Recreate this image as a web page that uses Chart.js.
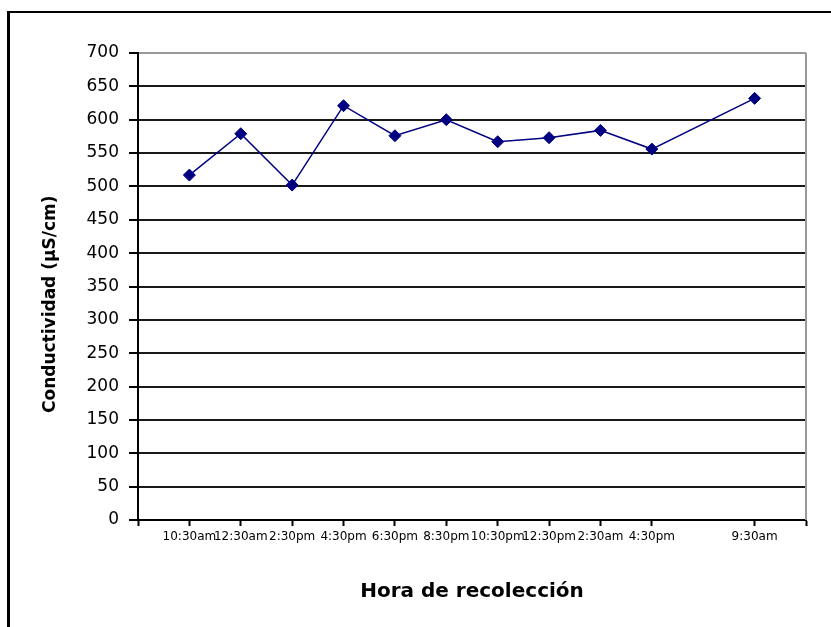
<!DOCTYPE html>
<html>
<head>
<meta charset="utf-8">
<script src="https://cdn.jsdelivr.net/npm/chart.js@4.4.1/dist/chart.umd.min.js"></script>
<style>
  html, body { margin: 0; padding: 0; background: #fff; overflow: hidden; }
  #wrap { position: relative; width: 831px; height: 627px; }
  #frame {
    position: absolute; left: 7px; top: 11px; width: 840px; height: 630px;
    border-left: 3px solid #000; border-top: 2px solid #000; pointer-events: none;
  }
  canvas { position: absolute; left: 0; top: 0; }
</style>
</head>
<body>
<div id="wrap">
  <canvas id="myChart" width="831" height="627"></canvas>
  <div id="frame"></div>
</div>
<script>
// sampling times, slot on the time axis (slot 11 has no sample) and conductivity readings
const times = ['10:30am', '12:30am', '2:30pm', '4:30pm', '6:30pm', '8:30pm', '10:30pm', '12:30pm', '2:30am', '4:30pm', '9:30am'];
const slots = [1, 2, 3, 4, 5, 6, 7, 8, 9, 10, 12];
const conductividad = [517, 579, 502, 621, 576, 600, 567, 573, 584, 556, 632];
const yTicks = [0, 50, 100, 150, 200, 250, 300, 350, 400, 450, 500, 550, 600, 650, 700];
const xTickSlots = [0, 1, 2, 3, 4, 5, 6, 7, 8, 9, 10, 12, 13];

const points = slots.map((s, i) => ({ x: s, y: conductividad[i] }));

const plotBorder = {
  id: 'plotBorder',
  afterDraw(chart) {
    const { ctx, chartArea } = chart;
    ctx.save();
    ctx.strokeStyle = '#999';
    ctx.lineWidth = 2;
    ctx.beginPath();
    ctx.moveTo(chartArea.right, chartArea.top);
    ctx.lineTo(chartArea.right, chartArea.bottom);
    ctx.stroke();
    ctx.restore();
  }
};

const ctx = document.getElementById('myChart').getContext('2d');
new Chart(ctx, {
  type: 'line',
  data: {
    datasets: [{
      label: 'Conductividad',
      data: points,
      borderColor: '#000080',
      backgroundColor: '#000080',
      borderWidth: 1.5,
      tension: 0,
      pointStyle: 'rectRot',
      pointRadius: 6,
      pointBorderWidth: 1,
      pointBackgroundColor: '#000080',
      pointBorderColor: '#000080'
    }]
  },
  options: {
    responsive: false,
    animation: false,
    layout: {
      padding: { top: 53, right: 25, left: 0, bottom: 0 }
    },
    plugins: {
      legend: { display: false },
      tooltip: { enabled: false }
    },
    scales: {
      x: {
        type: 'linear',
        min: 0,
        max: 13,
        afterBuildTicks: function(scale) {
          scale.ticks = xTickSlots.map(v => ({ value: v }));
        },
        afterFit: function(scale) {
          scale.height = 107;
        },
        ticks: {
          autoSkip: false,
          maxRotation: 0,
          minRotation: 0,
          padding: 4,
          color: '#000',
          font: { family: 'DejaVu Sans', size: 12 },
          callback: function(value) {
            const i = slots.indexOf(value);
            return i >= 0 ? times[i] : '';
          }
        },
        grid: {
          drawOnChartArea: false,
          drawTicks: true,
          tickLength: 6,
          tickColor: '#000',
          tickWidth: 2
        },
        border: { color: '#000', width: 2 },
        title: {
          display: true,
          text: 'Hora de recolección',
          color: '#000',
          font: { family: 'DejaVu Sans', size: 20, weight: 'bold' },
          padding: { top: 0, bottom: 23 }
        }
      },
      y: {
        min: 0,
        max: 700,
        afterBuildTicks: function(scale) {
          scale.ticks = yTicks.map(v => ({ value: v }));
        },
        afterFit: function(scale) {
          scale.width = 138;
        },
        ticks: {
          padding: 10,
          color: '#000',
          font: { family: 'DejaVu Sans', size: 17 }
        },
        grid: {
          color: function(c) {
            return c.tick && c.tick.value === 700 ? '#999' : '#1a1a1a';
          },
          lineWidth: 2,
          tickLength: 9,
          tickColor: '#000',
          tickWidth: 2
        },
        border: { color: '#000', width: 2 },
        title: {
          display: true,
          text: 'Conductividad (µS/cm)      ',
          color: '#000',
          font: { family: 'DejaVu Sans', size: 17, weight: 'bold' },
          padding: { top: 40, bottom: 0 }
        }
      }
    }
  },
  plugins: [plotBorder]
});
</script>
</body>
</html>
